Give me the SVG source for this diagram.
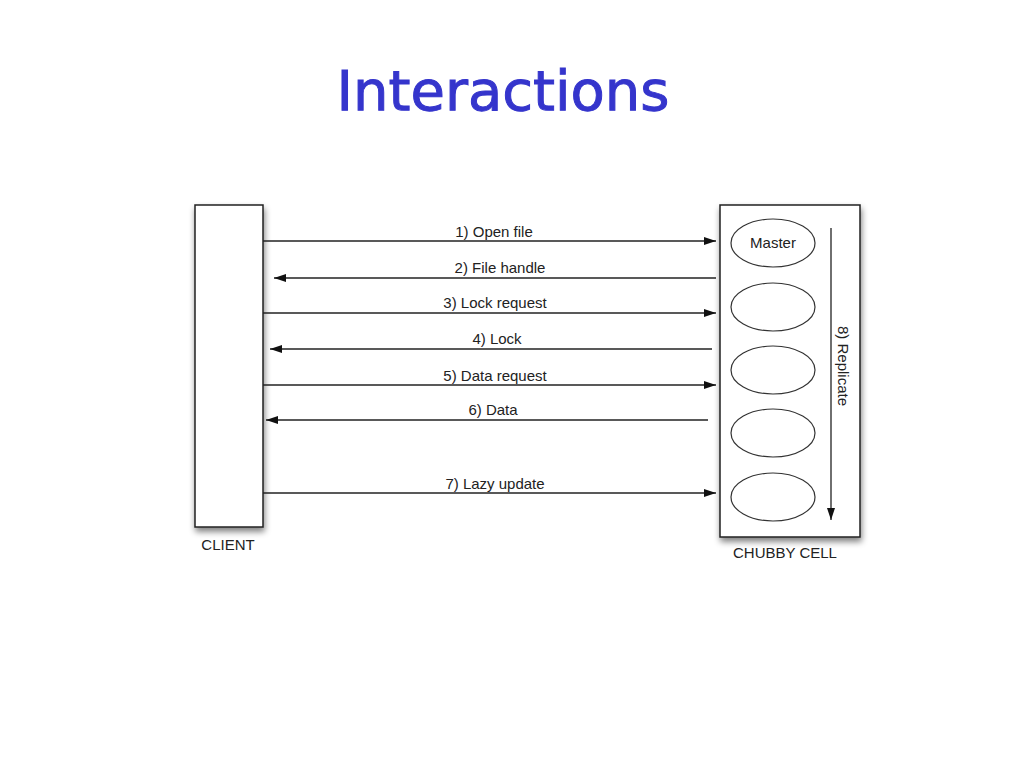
<svg xmlns="http://www.w3.org/2000/svg" width="1024" height="768" viewBox="0 0 1024 768">
<defs>
<marker id="ah" viewBox="0 0 12 8" refX="12" refY="4" markerWidth="12" markerHeight="8" markerUnits="userSpaceOnUse" orient="auto">
<path d="M0,0 L12,4 L0,8 Z" fill="#111"/>
</marker>
<filter id="sh" x="-20%" y="-10%" width="140%" height="130%">
<feGaussianBlur in="SourceAlpha" stdDeviation="3"/>
<feOffset dx="1" dy="4"/>
<feComponentTransfer><feFuncA type="linear" slope="0.5"/></feComponentTransfer>
<feMerge><feMergeNode/><feMergeNode in="SourceGraphic"/></feMerge>
</filter>
<style>
.box{fill:#fff;stroke:#222;stroke-width:1.5}
.ell{fill:#fff;stroke:#333;stroke-width:1.2}
.lbl{font-family:"Liberation Sans",Arial,sans-serif;font-size:15px;fill:#222;text-anchor:middle}
.ln{stroke:#222;stroke-width:1.3;fill:none;marker-end:url(#ah)}
.title{font-family:"DejaVu Sans","Noto Sans",sans-serif;font-size:56px;fill:#3535cc;stroke:#3535cc;stroke-width:1;text-anchor:middle}
</style>
</defs>
<rect width="1024" height="768" fill="#fff"/>
<text class="title" x="503" y="110">Interactions</text>
<g id="client">
<rect class="box" x="195" y="205" width="68" height="322" filter="url(#sh)"/>
<text class="lbl" x="228" y="550">CLIENT</text>
</g>
<g id="chubby-cell">
<rect class="box" x="720" y="205" width="140" height="332" filter="url(#sh)"/>
<text class="lbl" x="785" y="558">CHUBBY CELL</text>
</g>
<g id="master">
<ellipse class="ell" cx="773" cy="243" rx="42" ry="24"/>
<text class="lbl" x="773" y="248">Master</text>
</g>
<g id="replica1"><ellipse class="ell" cx="773" cy="307" rx="42" ry="24"/></g>
<g id="replica2"><ellipse class="ell" cx="773" cy="370" rx="42" ry="24"/></g>
<g id="replica3"><ellipse class="ell" cx="773" cy="433" rx="42" ry="24"/></g>
<g id="replica4"><ellipse class="ell" cx="773" cy="497" rx="42" ry="24"/></g>
<g id="connectors">
<line class="ln" x1="263" y1="241" x2="716" y2="241"/>
<text class="lbl" x="494" y="237">1) Open file</text>
<line class="ln" x1="716" y1="278" x2="274" y2="278"/>
<text class="lbl" x="500" y="273">2) File handle</text>
<line class="ln" x1="263" y1="313" x2="716" y2="313"/>
<text class="lbl" x="495" y="308">3) Lock request</text>
<line class="ln" x1="712" y1="349" x2="270" y2="349"/>
<text class="lbl" x="497" y="344">4) Lock</text>
<line class="ln" x1="263" y1="385" x2="716" y2="385"/>
<text class="lbl" x="495" y="381">5) Data request</text>
<line class="ln" x1="708" y1="420" x2="266" y2="420"/>
<text class="lbl" x="493" y="415">6) Data</text>
<line class="ln" x1="263" y1="493" x2="716" y2="493"/>
<text class="lbl" x="495" y="489">7) Lazy update</text>
<line class="ln" x1="831" y1="228" x2="831" y2="520"/>
<text class="lbl" transform="translate(838,366) rotate(90)" x="0" y="0">8) Replicate</text>
</g>
</svg>
